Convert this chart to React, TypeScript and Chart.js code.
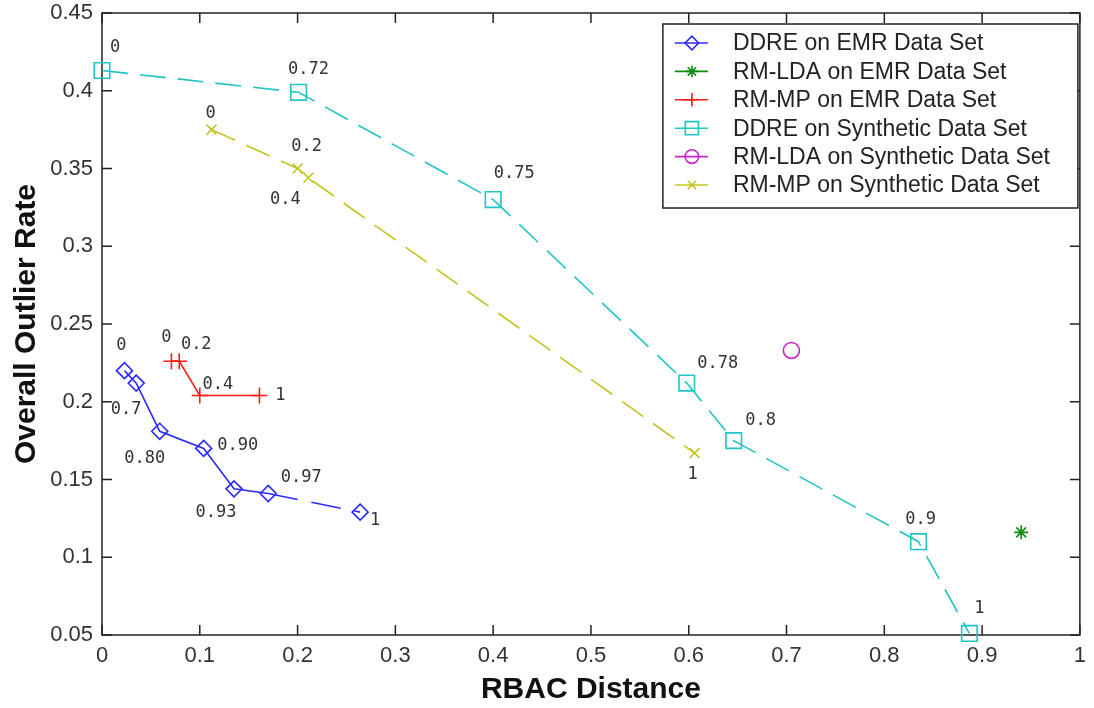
import React, { useEffect, useRef } from 'react';
import { Chart, registerables } from 'chart.js';
import { drawPoint } from 'chart.js/helpers';

Chart.register(...registerables);

// ---------- data ----------
const xTicks = [0, 0.1, 0.2, 0.3, 0.4, 0.5, 0.6, 0.7, 0.8, 0.9, 1];
const xTickLabels = ['0', '0.1', '0.2', '0.3', '0.4', '0.5', '0.6', '0.7', '0.8', '0.9', '1'];
const yTicks = [0.05, 0.1, 0.15, 0.2, 0.25, 0.3, 0.35, 0.4, 0.45];
const yTickLabels = ['0.05', '0.1', '0.15', '0.2', '0.25', '0.3', '0.35', '0.4', '0.45'];

const seriesNames = [
  'DDRE on EMR Data Set',
  'RM-LDA on EMR Data Set',
  'RM-MP on EMR Data Set',
  'DDRE on Synthetic Data Set',
  'RM-LDA on Synthetic Data Set',
  'RM-MP on Synthetic Data Set',
];

const ddreEmrX = [0.023, 0.035, 0.059, 0.104, 0.135, 0.170, 0.264];
const ddreEmrY = [0.220, 0.212, 0.181, 0.170, 0.144, 0.141, 0.129];
const ddreEmrLabels = ['0', '0.7', '0.80', '0.90', '0.93', '0.97', '1'];

const rmLdaEmrX = [0.94];
const rmLdaEmrY = [0.116];

const rmMpEmrX = [0.071, 0.079, 0.100, 0.161];
const rmMpEmrY = [0.226, 0.226, 0.204, 0.204];
const rmMpEmrLabels = ['0', '0.2', '0.4', '1'];

const ddreSynX = [0.0, 0.201, 0.400, 0.598, 0.646, 0.835, 0.887];
const ddreSynY = [0.413, 0.399, 0.330, 0.212, 0.175, 0.110, 0.051];
const ddreSynLabels = ['0', '0.72', '0.75', '0.78', '0.8', '0.9', '1'];

const rmLdaSynX = [0.705];
const rmLdaSynY = [0.233];

const rmMpSynX = [0.112, 0.200, 0.211, 0.606];
const rmMpSynY = [0.375, 0.350, 0.344, 0.167];
const rmMpSynLabels = ['0', '0.2', '0.4', '1'];

// ---------- styles ----------
const COLORS = ['#2a2aff', '#108a10', '#ff1a1a', '#22c4c4', '#cc22cc', '#c4c420'];
const POINT_STYLES = ['rectRot', 'star', 'cross', 'rect', 'circle', 'crossRot'];
const POINT_RADII = [8, 7, 8, 11, 8, 7];
const DASHES: number[][] = [[], [], [], [26, 12], [], [26, 12]];

// pixel offsets of the point annotations (text centre relative to point)
const OFFSETS_DDRE_EMR = [[-3, -25], [-10, 26], [-15, 27], [34, -3], [-18, 24], [33, -16], [15, 8]];
const OFFSETS_RMMP_EMR = [[-5, -24], [17, -17], [18, -11], [21, 0]];
const OFFSETS_DDRE_SYN = [[13, -23], [10, -23], [21, -26], [31, -20], [27, -20], [2, -22], [10, -25]];
const OFFSETS_RMMP_SYN = [[-1, -16], [9, -22], [-23, 22], [-2, 22]];

const SANS = "'Liberation Sans', Arial, sans-serif";
const MONO = "'DejaVu Sans Mono', monospace";

const toPts = (xs: number[], ys: number[]) => xs.map((x, i) => ({ x, y: ys[i] }));

const framePlugin = {
  id: 'matlabFrame',
  beforeDatasetsDraw(chart: any) {
    const { ctx, chartArea } = chart;
    const { left, right, top, bottom } = chartArea;
    const tl = 10;
    ctx.save();
    ctx.strokeStyle = '#222';
    ctx.lineWidth = 1.5;
    ctx.setLineDash([]);
    ctx.strokeRect(left, top, right - left, bottom - top);
    ctx.beginPath();
    const sx = chart.scales.x;
    xTicks.forEach((v) => {
      const px = sx.getPixelForValue(v);
      ctx.moveTo(px, bottom);
      ctx.lineTo(px, bottom - tl);
      ctx.moveTo(px, top);
      ctx.lineTo(px, top + tl);
    });
    const sy = chart.scales.y;
    yTicks.forEach((v) => {
      const py = sy.getPixelForValue(v);
      ctx.moveTo(left, py);
      ctx.lineTo(left + tl, py);
      ctx.moveTo(right, py);
      ctx.lineTo(right - tl, py);
    });
    ctx.stroke();
    ctx.restore();
  },
};

const pointLabelPlugin = {
  id: 'pointLabels',
  afterDatasetsDraw(chart: any) {
    const { ctx } = chart;
    ctx.save();
    ctx.font = `17px ${MONO}`;
    ctx.fillStyle = '#333';
    ctx.textAlign = 'center';
    ctx.textBaseline = 'middle';
    chart.data.datasets.forEach((ds: any, di: number) => {
      if (!ds.pointLabels) return;
      const meta = chart.getDatasetMeta(di);
      meta.data.forEach((el: any, i: number) => {
        const off = ds.labelOffsets[i] || [0, 0];
        ctx.fillText(ds.pointLabels[i], el.x + off[0], el.y + off[1]);
      });
    });
    ctx.restore();
  },
};

const legendPlugin = {
  id: 'matlabLegend',
  afterDraw(chart: any) {
    const { ctx, chartArea } = chart;
    const bw = 415;
    const bh = 184;
    const bx = chartArea.right - 2 - bw;
    const by = chartArea.top + 11;
    ctx.save();
    ctx.fillStyle = '#fff';
    ctx.fillRect(bx, by, bw, bh);
    ctx.strokeStyle = '#222';
    ctx.lineWidth = 1.5;
    ctx.strokeRect(bx, by, bw, bh);
    chart.data.datasets.forEach((ds: any, i: number) => {
      const y = by + 19 + i * 28.4;
      ctx.setLineDash([]);
      ctx.strokeStyle = ds.borderColor;
      ctx.lineWidth = 1.6;
      ctx.beginPath();
      ctx.moveTo(bx + 12, y);
      ctx.lineTo(bx + 45, y);
      ctx.stroke();
      ctx.fillStyle = 'rgba(0,0,0,0)';
      ctx.strokeStyle = ds.borderColor;
      ctx.lineWidth = 1.6;
      drawPoint(ctx, { pointStyle: ds.pointStyle, radius: ds.pointRadius * 0.85, rotation: 0, borderWidth: 1.6 } as any, bx + 29, y);
      ctx.fillStyle = '#222';
      ctx.font = `23px ${SANS}`;
      ctx.textAlign = 'left';
      ctx.textBaseline = 'middle';
      ctx.fillText(ds.label, bx + 70, y + 1);
    });
    ctx.restore();
  },
};

export default function App() {
  const ref = useRef<HTMLCanvasElement | null>(null);

  useEffect(() => {
    if (!ref.current) return;
    const series = [
      { xs: ddreEmrX, ys: ddreEmrY, labels: ddreEmrLabels, offsets: OFFSETS_DDRE_EMR, line: true },
      { xs: rmLdaEmrX, ys: rmLdaEmrY, labels: null, offsets: null, line: false },
      { xs: rmMpEmrX, ys: rmMpEmrY, labels: rmMpEmrLabels, offsets: OFFSETS_RMMP_EMR, line: true },
      { xs: ddreSynX, ys: ddreSynY, labels: ddreSynLabels, offsets: OFFSETS_DDRE_SYN, line: true },
      { xs: rmLdaSynX, ys: rmLdaSynY, labels: null, offsets: null, line: false },
      { xs: rmMpSynX, ys: rmMpSynY, labels: rmMpSynLabels, offsets: OFFSETS_RMMP_SYN, line: true },
    ];
    const datasets: any[] = series.map((s, i) => ({
      label: seriesNames[i],
      data: toPts(s.xs, s.ys),
      showLine: s.line,
      borderColor: COLORS[i],
      backgroundColor: 'rgba(0,0,0,0)',
      borderWidth: 1.6,
      borderDash: DASHES[i],
      pointStyle: POINT_STYLES[i],
      pointRadius: POINT_RADII[i],
      pointBorderWidth: 1.6,
      pointBorderColor: COLORS[i],
      pointBackgroundColor: 'rgba(0,0,0,0)',
      pointHoverRadius: POINT_RADII[i],
      tension: 0,
      clip: false,
      pointLabels: s.labels,
      labelOffsets: s.offsets,
      segment: i === 0 ? { borderDash: (c: any) => (c.p0DataIndex === 5 ? [30, 14] : undefined) } : undefined,
    }));

    const chart = new Chart(ref.current, {
      type: 'scatter',
      data: { datasets },
      options: {
        animation: false,
        responsive: false,
        devicePixelRatio: 1,
        layout: { padding: { left: 0, top: 13, right: 14, bottom: 0 } },
        plugins: {
          legend: { display: false },
          tooltip: { enabled: false },
        },
        scales: {
          x: {
            type: 'linear',
            min: 0,
            max: 1,
            grid: { display: false, drawTicks: false },
            border: { display: false },
            afterBuildTicks: (s: any) => {
              s.ticks = xTicks.map((v) => ({ value: v }));
            },
            afterFit: (s: any) => {
              s.height = 73;
            },
            ticks: {
              autoSkip: false,
              maxRotation: 0,
              padding: 8,
              color: '#333',
              font: { family: SANS, size: 22 },
              callback: (_v: any, i: number) => xTickLabels[i],
            },
            title: {
              display: true,
              text: 'RBAC Distance',
              color: '#111',
              font: { family: SANS, size: 30, weight: 'bold' },
              padding: { top: 0, bottom: 0 },
            },
          },
          y: {
            type: 'linear',
            min: 0.05,
            max: 0.45,
            grid: { display: false, drawTicks: false },
            border: { display: false },
            afterBuildTicks: (s: any) => {
              s.ticks = yTicks.map((v) => ({ value: v }));
            },
            afterFit: (s: any) => {
              s.width = 102;
            },
            ticks: {
              autoSkip: false,
              padding: 9,
              color: '#333',
              font: { family: SANS, size: 22, lineHeight: 0.3 },
              callback: (_v: any, i: number) => yTickLabels[i],
            },
            title: {
              display: true,
              text: 'Overall Outlier Rate',
              color: '#111',
              font: { family: SANS, size: 30, weight: 'bold' },
              padding: { top: 9, bottom: 0 },
            },
          },
        },
      } as any,
      plugins: [framePlugin, pointLabelPlugin, legendPlugin],
    });
    return () => chart.destroy();
  }, []);

  return (
    <div style={{ position: 'absolute', left: 0, top: 0, width: 1094, height: 708, background: '#fff' }}>
      <canvas ref={ref} width={1094} height={708} style={{ display: 'block' }} />
    </div>
  );
}
